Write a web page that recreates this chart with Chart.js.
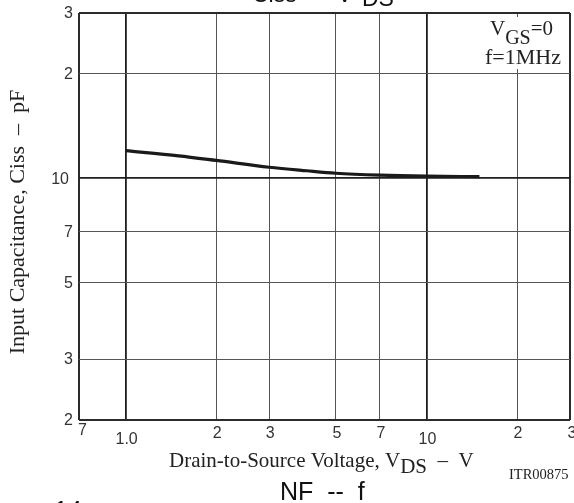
<!DOCTYPE html>
<html>
<head>
<meta charset="utf-8">
<script src="https://cdn.jsdelivr.net/npm/chart.js@4/dist/chart.umd.min.js"></script>
<style>
  html, body { margin: 0; padding: 0; background: #fff; }
  canvas { display: block; }
</style>
</head>
<body>
<canvas id="c" width="574" height="503"></canvas>
<script>
// Ciss vs VDS curve: drain-to-source voltage (V) and input capacitance (pF)
const vdsValues  = [1.0, 1.5, 2, 3, 4, 5, 7, 10, 15];
const cissValues = [12.0, 11.6, 11.25, 10.75, 10.5, 10.33, 10.2, 10.13, 10.1];

// Log-axis grid positions and their printed labels
const xTickValues = [0.7, 1, 2, 3, 5, 7, 10, 20, 30];
const xTickLabels = ['7', '1.0', '2', '3', '5', '7', '10', '2', '3'];
const yTickValues = [2, 3, 5, 7, 10, 20, 30];
const yTickLabels = ['2', '3', '5', '7', '10', '2', '3'];

const SERIF = '"Liberation Serif", "Times New Roman", serif';
const SANS = '"Liberation Sans", Arial, sans-serif';

function isDecade(v) { return v === 1 || v === 10; }

function gridStyle(min, max) {
  return {
    drawTicks: false,
    color: (c) => {
      const v = c.tick && c.tick.value;
      if (v === min || v === max) return '#2b2b2b';
      return isDecade(v) ? '#1e1e1e' : '#555';
    },
    lineWidth: (c) => {
      const v = c.tick && c.tick.value;
      if (v === min || v === max) return 2;
      return isDecade(v) ? 1.8 : 1;
    }
  };
}

// Draws text pieces in sequence, some of them lowered as subscripts
function drawRun(ctx, x, y, parts) {
  let cx = x;
  for (const p of parts) {
    ctx.font = p.font;
    ctx.fillText(p.text, cx, y + (p.dy || 0));
    cx += ctx.measureText(p.text).width + (p.gap || 0);
  }
}

const annotations = {
  id: 'annotations',
  afterDraw(chart) {
    const ctx = chart.ctx;
    const area = chart.chartArea;
    const xs = chart.scales.x;
    const ys = chart.scales.y;
    ctx.save();

    // Tick labels
    ctx.fillStyle = '#333';
    ctx.font = '16px ' + SANS;
    ctx.textBaseline = 'top';
    xTickValues.forEach((v, i) => {
      const px = xs.getPixelForValue(v);
      let top = area.bottom + 6;
      if (isDecade(v)) top = area.bottom + 12;
      if (i === 0) {
        ctx.textAlign = 'left';
        ctx.fillText(xTickLabels[i], px - 1, area.bottom + 3);
      } else if (i === xTickValues.length - 1) {
        ctx.textAlign = 'center';
        ctx.fillText(xTickLabels[i], px + 2, top);
      } else {
        ctx.textAlign = 'center';
        ctx.fillText(xTickLabels[i], px + 1, top);
      }
    });
    ctx.textBaseline = 'middle';
    ctx.textAlign = 'right';
    yTickValues.forEach((v, i) => {
      const py = ys.getPixelForValue(v);
      const dx = yTickLabels[i] === '10' ? 10 : 6;
      ctx.fillText(yTickLabels[i], area.left - dx, py + 1);
    });

    // Condition box in the upper right corner
    ctx.fillStyle = '#fff';
    ctx.fillRect(478, 17, 89, 52);
    ctx.fillStyle = '#222';
    ctx.textAlign = 'left';
    ctx.textBaseline = 'alphabetic';
    drawRun(ctx, 490, 35, [
      { text: 'V', font: '21px ' + SERIF },
      { text: 'GS', font: '20px ' + SERIF, dy: 9 },
      { text: '=0', font: '21px ' + SERIF }
    ]);
    ctx.font = '22px ' + SERIF;
    ctx.fillText('f=1MHz', 485, 64);

    // Axis titles
    ctx.save();
    ctx.translate(24, 222);
    ctx.rotate(-Math.PI / 2);
    ctx.textAlign = 'center';
    ctx.font = '22px ' + SERIF;
    ctx.fillText('Input Capacitance, Ciss  \u2013  pF', 0, 0);
    ctx.restore();

    ctx.textAlign = 'left';
    drawRun(ctx, 169, 467, [
      { text: 'Drain-to-Source Voltage, V', font: '21px ' + SERIF },
      { text: 'DS', font: '21px ' + SERIF, dy: 6 },
      { text: '  \u2013  V', font: '21px ' + SERIF }
    ]);
    ctx.font = '14.5px ' + SERIF;
    ctx.fillText('ITR00875', 509, 479);

    // Neighbouring headings of the data sheet page
    ctx.fillStyle = '#111';
    ctx.font = '23px ' + SANS;
    ctx.fillText('Ciss', 252, 2);
    ctx.fillText('--', 305, 2);
    ctx.fillText('V', 337, 2);
    ctx.fillText('DS', 362, 6);
    ctx.font = '25px ' + SANS;
    ctx.fillText('NF  --  f', 280, 500);
    ctx.fillText('14', 54, 519);

    ctx.restore();
  }
};

new Chart(document.getElementById('c'), {
  type: 'line',
  data: {
    datasets: [{
      data: vdsValues.map((v, i) => ({ x: v, y: cissValues[i] })),
      borderColor: '#1a1a1a',
      borderWidth: 3.2,
      borderCapStyle: 'butt',
      pointRadius: 0,
      fill: false,
      cubicInterpolationMode: 'monotone'
    }]
  },
  options: {
    responsive: false,
    animation: false,
    devicePixelRatio: 1,
    layout: { padding: { top: 13, right: 4, bottom: 0, left: 0 } },
    plugins: { legend: { display: false }, tooltip: { enabled: false } },
    scales: {
      x: {
        type: 'logarithmic',
        min: 0.7,
        max: 30,
        afterBuildTicks: (s) => { s.ticks = xTickValues.map(v => ({ value: v })); },
        afterFit: (s) => { s.height = 83; },
        ticks: { display: false },
        grid: gridStyle(0.7, 30),
        border: { display: false }
      },
      y: {
        type: 'logarithmic',
        min: 2,
        max: 30,
        afterBuildTicks: (s) => { s.ticks = yTickValues.map(v => ({ value: v })); },
        afterFit: (s) => { s.width = 79; },
        ticks: { display: false },
        grid: gridStyle(2, 30),
        border: { display: false }
      }
    }
  },
  plugins: [annotations]
});
</script>
</body>
</html>
